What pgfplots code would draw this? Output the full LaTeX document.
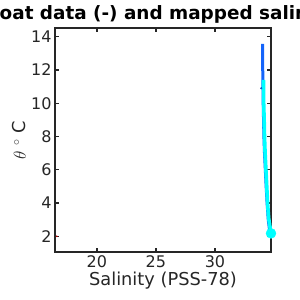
\documentclass[border=0pt]{standalone}
\usepackage{pgfplots}
\pgfplotsset{compat=1.18}
\usepackage{fontspec}
\setmainfont{DejaVu Sans}
\definecolor{axgray}{RGB}{38,38,38}
\definecolor{fblue}{RGB}{20,100,250}
\definecolor{fcyan}{RGB}{0,255,255}
\begin{document}
\begin{tikzpicture}[x=1pt,y=1pt]
\useasboundingbox (0,0) rectangle (300,300);
\begin{axis}[
  at={(55pt,48pt)}, anchor=south west,
  scale only axis, width=216pt, height=224pt,
  xmin=16.45, xmax=34.75, ymin=1.06, ymax=14.52,
  xtick={20,25,30}, ytick={2,4,...,14},
  tick align=inside, major tick length=4pt,
  axis line style={axgray, line width=1.5pt},
  every tick/.style={axgray, line width=1.2pt},
  tick label style={font=\fontsize{16}{19}\selectfont, text=axgray},
  /pgf/number format/assume math mode=true,
  xlabel={Salinity (PSS-78)},
  ylabel={$\theta$ $^\circ$ C},
  label style={font=\fontsize{17.8}{21}\selectfont, text=axgray},
  xlabel style={yshift=3pt},
  ylabel style={yshift=-2pt},
  title={Float data (-) and mapped salinity (o)},
  title style={font=\fontsize{18.4}{22}\selectfont\bfseries, yshift=-5pt, xshift=13pt},
  clip=false,
]
\addplot[red!70!black, only marks, mark=*, mark size=0.6pt] coordinates {(16.6,2.0)};
\addplot[fblue, line width=3pt] coordinates {
(34.05,13.56) (34.05,12) (34.07,11) (34.09,10) (34.12,9) (34.15,8) (34.2,7) (34.27,6) (34.34,5) (34.42,4) (34.52,3) (34.66,2.2)
};
\addplot[fblue!80!black, only marks, mark=*, mark size=0.8pt] coordinates {(33.92,10.9)};
\addplot[fcyan, line width=3.6pt] coordinates {
(34.11,11.4) (34.13,10) (34.17,9) (34.2,8) (34.25,7) (34.32,6) (34.39,5) (34.46,4) (34.55,3.1) (34.75,2.18)
};
\addplot[fcyan, only marks, mark=*, mark size=5pt] coordinates {(34.75,2.18)};
\end{axis}
\end{tikzpicture}
\end{document}
